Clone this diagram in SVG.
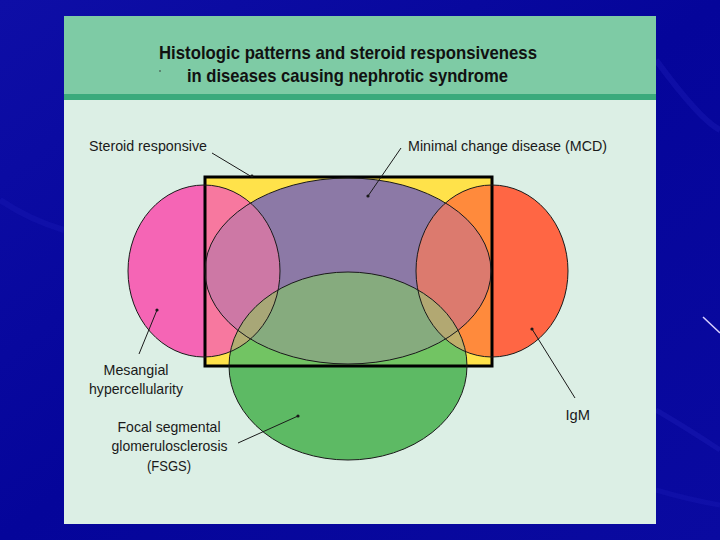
<svg xmlns="http://www.w3.org/2000/svg" xmlns:xlink="http://www.w3.org/1999/xlink" width="720" height="540" viewBox="0 0 720 540">
<style>
.lbl{font-family:"Liberation Sans",Arial,sans-serif;font-size:14.5px;fill:#1a1a1a}
.ttl{font-family:"Liberation Sans",Arial,sans-serif;font-size:19px;font-weight:bold;fill:#111}
.out{fill:none;stroke:#1a1a1a;stroke-width:1}
.lead{stroke:#1a1a1a;stroke-width:1;fill:none}
.dot{fill:#1a1a1a}
</style>
<defs>
<linearGradient id="bg" x1="0" y1="0" x2="1" y2="1">
<stop offset="0" stop-color="#0e0ea6"/>
<stop offset="0.5" stop-color="#05059a"/>
<stop offset="1" stop-color="#0a0aa0"/>
</linearGradient>
<ellipse id="eP" cx="204" cy="271" rx="76" ry="86"/>
<ellipse id="eM" cx="348" cy="271" rx="143" ry="93"/>
<ellipse id="eO" cx="492" cy="271" rx="76" ry="86"/>
<ellipse id="eG" cx="348" cy="366" rx="119" ry="94"/>
<clipPath id="cRect"><rect x="205" y="177" width="287" height="189"/></clipPath>
<clipPath id="cPurple"><use xlink:href="#eM"/></clipPath>
<clipPath id="cGreen"><use xlink:href="#eG"/></clipPath>
</defs>
<rect width="720" height="540" fill="url(#bg)"/>
<path d="M656 60 Q700 120 720 130" stroke="#2a2ac8" stroke-width="6" fill="none" opacity="0.25"/>
<path d="M656 410 Q690 430 720 450" stroke="#2a2ac8" stroke-width="5" fill="none" opacity="0.25"/>
<path d="M656 490 Q690 500 720 505" stroke="#2a2ac8" stroke-width="5" fill="none" opacity="0.2"/>
<path d="M0 200 Q30 220 64 230" stroke="#2a2ac8" stroke-width="6" fill="none" opacity="0.2"/>
<line x1="703" y1="317" x2="720" y2="333" stroke="#d8d0ff" stroke-width="1.5"/>
<g id="panel">
<rect x="64" y="16" width="592" height="508" fill="#dcefe5"/>
<rect x="64" y="16" width="592" height="79" fill="#7ecba5"/>
<rect x="64" y="94" width="592" height="6" fill="#3aaa7c"/>
</g>
<g id="title">
<text class="ttl" x="348" y="59" text-anchor="middle" textLength="378" lengthAdjust="spacingAndGlyphs">Histologic patterns and steroid responsiveness</text>
<text class="ttl" x="347.5" y="82" text-anchor="middle" textLength="321" lengthAdjust="spacingAndGlyphs">in diseases causing nephrotic syndrome</text>
<circle cx="160" cy="71" r="0.8" fill="#333"/>
</g>
<g id="venn-fills">
<use xlink:href="#eP" fill="#f565b5"/>
<use xlink:href="#eO" fill="#ff6644"/>
<use xlink:href="#eG" fill="#5dba64"/>
<g clip-path="url(#cRect)">
<rect x="205" y="177" width="287" height="189" fill="#ffe24a"/>
<use xlink:href="#eP" fill="#f7789f"/>
<use xlink:href="#eO" fill="#ff8a3c"/>
<use xlink:href="#eG" fill="#72c463"/>
<g clip-path="url(#cGreen)">
<use xlink:href="#eP" fill="#b3ad72"/>
<use xlink:href="#eO" fill="#bfae6a"/>
</g>
<g clip-path="url(#cPurple)">
<use xlink:href="#eM" fill="#8c79a6"/>
<use xlink:href="#eP" fill="#cd78a5"/>
<use xlink:href="#eO" fill="#dc7a6e"/>
<use xlink:href="#eG" fill="#86ab7e"/>
<g clip-path="url(#cGreen)">
<use xlink:href="#eP" fill="#a8a777"/>
<use xlink:href="#eO" fill="#b2a872"/>
</g>
</g>
</g>
</g>
<g id="steroid-responsive">
<rect x="205" y="177" width="287" height="189" fill="none" stroke="#000" stroke-width="3"/>
<text class="lbl" x="89" y="151" textLength="118" lengthAdjust="spacingAndGlyphs">Steroid responsive</text>
</g>
<g id="mesangial">
<use xlink:href="#eP" class="out"/>
<text class="lbl" x="136" y="375" text-anchor="middle" textLength="65" lengthAdjust="spacingAndGlyphs">Mesangial</text>
<text class="lbl" x="136" y="394" text-anchor="middle" textLength="94" lengthAdjust="spacingAndGlyphs">hypercellularity</text>
</g>
<g id="mcd">
<use xlink:href="#eM" class="out"/>
<text class="lbl" x="408" y="151" textLength="199" lengthAdjust="spacingAndGlyphs">Minimal change disease (MCD)</text>
</g>
<g id="igm">
<use xlink:href="#eO" class="out"/>
<text class="lbl" x="565.5" y="420" textLength="24.5" lengthAdjust="spacingAndGlyphs">IgM</text>
</g>
<g id="fsgs">
<use xlink:href="#eG" class="out"/>
<text class="lbl" x="169" y="432" text-anchor="middle" textLength="103" lengthAdjust="spacingAndGlyphs">Focal segmental</text>
<text class="lbl" x="169.5" y="451" text-anchor="middle" textLength="116" lengthAdjust="spacingAndGlyphs">glomerulosclerosis</text>
<text class="lbl" x="169" y="471" text-anchor="middle" textLength="44" lengthAdjust="spacingAndGlyphs">(FSGS)</text>
</g>
<g id="connectors">
<line class="lead" x1="212" y1="153" x2="252" y2="177"/>
<circle class="dot" cx="252" cy="176" r="1.4"/>
<line class="lead" x1="401" y1="148" x2="368" y2="196"/>
<circle class="dot" cx="368" cy="196" r="1.6"/>
<line class="lead" x1="157" y1="310" x2="139" y2="354"/>
<circle class="dot" cx="157" cy="310" r="1.6"/>
<line class="lead" x1="298" y1="416" x2="238" y2="443"/>
<circle class="dot" cx="298" cy="416" r="1.6"/>
<line class="lead" x1="532" y1="329" x2="575" y2="398"/>
<circle class="dot" cx="532" cy="329" r="1.6"/>
</g>
</svg>
